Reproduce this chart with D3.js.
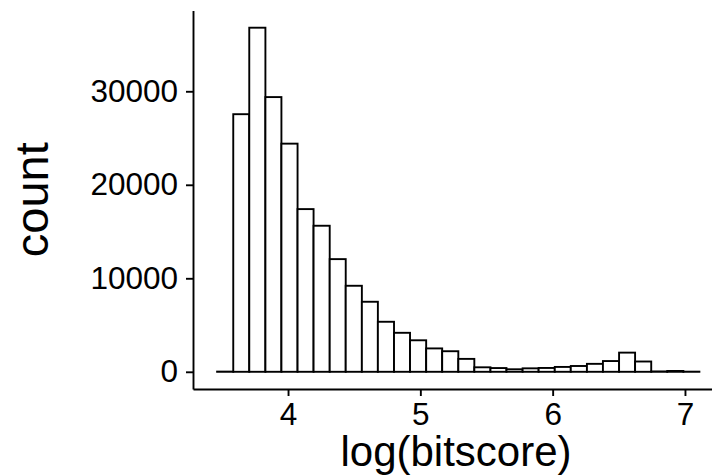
<!DOCTYPE html>
<html>
<head>
<meta charset="utf-8">
<script src="https://cdn.jsdelivr.net/npm/d3@7"></script>
<style>
    html, body { margin: 0; padding: 0; background: #fff; }
    svg { display: block; font-family: "Liberation Sans", Arial, Helvetica, sans-serif; }
</style>
</head>
<body>
<div id="chart"></div>
<script>
// histogram of log(bitscore), 30 bins
const binEdges = [
    3.464, 3.586, 3.707, 3.829, 3.950, 4.072, 4.193, 4.315, 4.436, 4.558,
    4.679, 4.801, 4.922, 5.044, 5.165, 5.287, 5.408, 5.530, 5.651, 5.773,
    5.894, 6.016, 6.137, 6.259, 6.380, 6.502, 6.623, 6.745, 6.866, 6.988, 7.109
];
const counts = [
    20, 27550, 36800, 29380, 24400, 17400, 15620, 12050, 9200, 7490,
    5350, 4170, 3370, 2500, 2200, 1380, 480, 400, 270, 370,
    410, 520, 620, 850, 1150, 2050, 1100, 40, 90, 15
];
const xTicks = [4, 5, 6, 7];
const yTicks = [0, 10000, 20000, 30000];
const xTitle = "log(bitscore)";
const yTitle = "count";

const W = 712, H = 476;
const panel = { left: 193, right: 723.5, top: 10.5, bottom: 389 };

// ggplot style 5% expansion
function expand(lo, hi) {
    const pad = (hi - lo) * 0.05;
    return [lo - pad, hi + pad];
}

const bins = counts.map((c, i) => ({ x0: binEdges[i], x1: binEdges[i + 1], count: c }));

const xScale = d3.scaleLinear()
    .domain(expand(d3.min(binEdges), d3.max(binEdges)))
    .range([panel.left, panel.right]);

const yScale = d3.scaleLinear()
    .domain(expand(0, d3.max(counts)))
    .range([panel.bottom, panel.top]);

const svg = d3.select("#chart")
    .append("svg")
    .attr("width", W)
    .attr("height", H);

// bars
svg.append("g")
    .selectAll("rect")
    .data(bins)
    .join("rect")
    .attr("x", d => xScale(d.x0))
    .attr("width", d => xScale(d.x1) - xScale(d.x0))
    .attr("y", d => yScale(d.count))
    .attr("height", d => yScale(0) - yScale(d.count))
    .attr("fill", "#fff")
    .attr("stroke", "#000")
    .attr("stroke-width", 1.9);

// axes
const yAxis = svg.append("g")
    .attr("transform", `translate(${panel.left}, 0)`)
    .call(d3.axisLeft(yScale).tickValues(yTicks).tickSize(7).tickSizeOuter(0).tickPadding(8).tickFormat(d3.format("d")));

const xAxis = svg.append("g")
    .attr("transform", `translate(0, ${panel.bottom})`)
    .call(d3.axisBottom(xScale).tickValues(xTicks).tickSize(7).tickSizeOuter(0).tickPadding(7).tickFormat(d3.format("d")));

[xAxis, yAxis].forEach(ax => {
    ax.select(".domain").attr("stroke", "#000").attr("stroke-width", 1.9);
    ax.selectAll(".tick line").attr("stroke", "#000").attr("stroke-width", 1.9);
    ax.selectAll(".tick text")
        .attr("fill", "#000")
        .style("font-size", "31.5px")
        .style("font-family", "'Liberation Sans', Arial, sans-serif");
});

// axis titles
svg.append("text")
    .attr("x", 456)
    .attr("y", 466)
    .attr("text-anchor", "middle")
    .style("font-size", "42px")
    .text(xTitle);

svg.append("text")
    .attr("transform", `translate(48, ${(panel.top + panel.bottom) / 2}) rotate(-90)`)
    .attr("text-anchor", "middle")
    .style("font-size", "47px")
    .text(yTitle);
</script>
</body>
</html>
